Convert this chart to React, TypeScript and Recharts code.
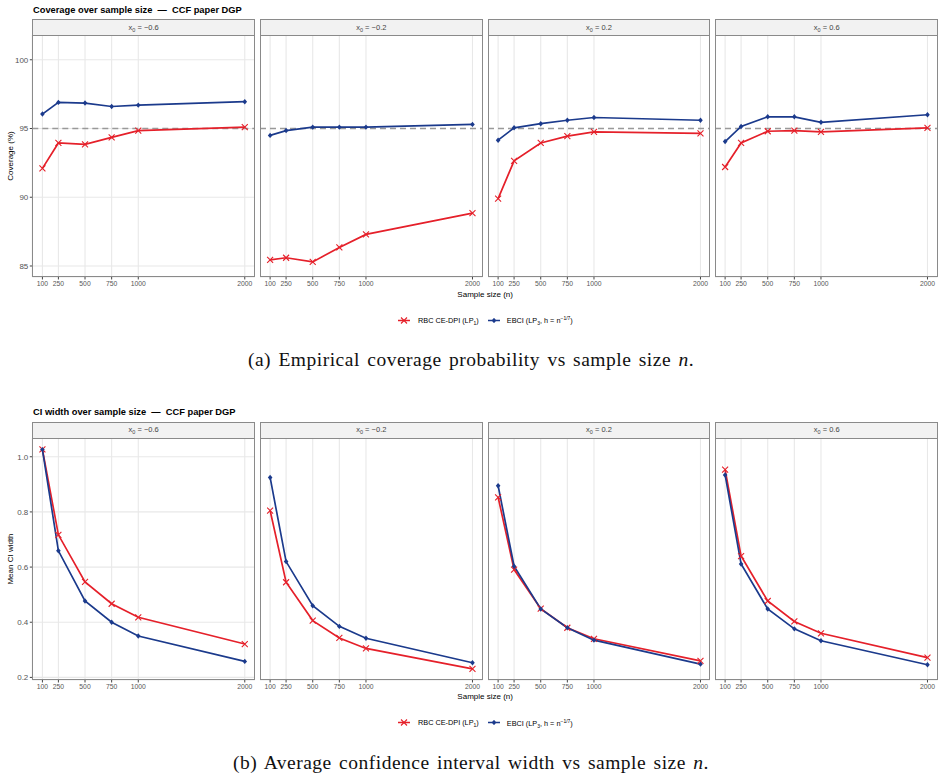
import React from "react";
import { CartesianGrid, Line, LineChart, ReferenceLine, XAxis, YAxis } from "recharts";

const sampleSizes = [100, 250, 500, 750, 1000, 2000];
const facetValues = ["\u22120.6", "\u22120.2", "0.2", "0.6"];

// coverage (%) by facet: x0 = -0.6, -0.2, 0.2, 0.6
const coverageRbc = [
  [92.1, 93.95, 93.85, 94.35, 94.85, 95.1],
  [85.45, 85.6, 85.3, 86.35, 87.3, 88.85],
  [89.9, 92.65, 93.95, 94.45, 94.75, 94.65],
  [92.2, 93.95, 94.8, 94.85, 94.75, 95.05],
];
const coverageEbci = [
  [96.05, 96.9, 96.85, 96.6, 96.7, 96.95],
  [94.5, 94.85, 95.1, 95.1, 95.1, 95.3],
  [94.15, 95.05, 95.35, 95.6, 95.8, 95.6],
  [94.05, 95.15, 95.85, 95.85, 95.45, 96.0],
];
const coverageTicks = [85, 90, 95, 100];

// mean CI width by facet
const widthRbc = [
  [1.027, 0.717, 0.546, 0.467, 0.418, 0.321],
  [0.805, 0.545, 0.406, 0.343, 0.305, 0.231],
  [0.853, 0.591, 0.449, 0.38, 0.34, 0.26],
  [0.953, 0.64, 0.477, 0.403, 0.36, 0.272],
];
const widthEbci = [
  [1.026, 0.659, 0.477, 0.4, 0.35, 0.258],
  [0.925, 0.62, 0.46, 0.385, 0.342, 0.253],
  [0.895, 0.603, 0.448, 0.38, 0.335, 0.248],
  [0.934, 0.611, 0.448, 0.376, 0.333, 0.246],
];
const widthTicks = [0.2, 0.4, 0.6, 0.8, 1.0];

const RED = "#e5202a";
const BLUE = "#1b3a8c";
const BORDER = "#8a8a8a";
const SANS = "'Liberation Sans', Arial, sans-serif";

const PANEL_LEFT = [32.3, 260, 487.7, 715.4];
const PANEL_W = 222.6;
const STRIP_TOP = 19;
const PLOT_TOP = 35;
const PLOT_H = 242;
const X_DOMAIN = [5, 2095];

const Cross = (p: any) => {
  const { cx, cy } = p;
  if (cx == null || cy == null) return <g key={p.index} />;
  const r = 3;
  return (
    <path
      key={p.index}
      d={`M${cx - r},${cy - r}L${cx + r},${cy + r}M${cx - r},${cy + r}L${cx + r},${cy - r}`}
      stroke={RED}
      strokeWidth={1.1}
      fill="none"
    />
  );
};

const Diamond = (p: any) => {
  const { cx, cy } = p;
  if (cx == null || cy == null) return <g key={p.index} />;
  return <path key={p.index} d={`M${cx},${cy - 2.7}L${cx + 2.3},${cy}L${cx},${cy + 2.7}L${cx - 2.3},${cy}Z`} fill={BLUE} />;
};

type FacetProps = {
  index: number;
  rbc: number[];
  ebci: number[];
  domain: number[];
  ticks: number[];
  fmt: (v: number) => string;
  hline?: number;
};

function Facet({ index, rbc, ebci, domain, ticks, fmt, hline }: FacetProps) {
  const first = index === 0;
  const left = first ? 0 : PANEL_LEFT[index];
  const width = first ? PANEL_LEFT[0] + PANEL_W : PANEL_W;
  const data = sampleSizes.map((n, i) => ({ n, rbc: rbc[i], ebci: ebci[i] }));
  return (
    <div style={{ position: "absolute", left, top: PLOT_TOP }}>
      <LineChart width={width} height={PLOT_H + 22} data={data} margin={{ top: 0, right: 0, bottom: 0, left: 0 }}>
        <CartesianGrid stroke="#e8e8e8" strokeWidth={1.1} />
        <XAxis
          dataKey="n"
          type="number"
          domain={X_DOMAIN}
          ticks={sampleSizes}
          interval={0}
          allowDataOverflow
          height={22}
          axisLine={false}
          tickLine={{ stroke: "#444" }}
          tickSize={2.5}
          tickMargin={1.5}
          tick={{ fontSize: 6.8, fill: "#555" }}
        />
        <YAxis
          type="number"
          domain={domain}
          ticks={ticks}
          allowDataOverflow
          width={first ? PANEL_LEFT[0] : 0}
          axisLine={false}
          tickLine={first ? { stroke: "#444" } : false}
          tick={first ? { fontSize: 8, fill: "#555" } : false}
          tickSize={2.5}
          tickMargin={1.5}
          tickFormatter={fmt}
        />
        {hline != null && (
          <ReferenceLine y={hline} stroke="#999" strokeWidth={1.3} strokeDasharray="6 4" />
        )}
        <Line dataKey="rbc" stroke={RED} strokeWidth={1.7} dot={false} isAnimationActive={false} />
        <Line dataKey="ebci" stroke={BLUE} strokeWidth={1.7} dot={false} isAnimationActive={false} />
        <Line dataKey="rbc" stroke="none" dot={Cross} activeDot={false} isAnimationActive={false} />
        <Line dataKey="ebci" stroke="none" dot={Diamond} activeDot={false} isAnimationActive={false} />
      </LineChart>
    </div>
  );
}

const LegendKey = ({ kind }: { kind: "rbc" | "ebci" }) => (
  <svg width={14} height={10} style={{ display: "block" }}>
    <line x1={1} x2={13} y1={5} y2={5} stroke={kind === "rbc" ? RED : BLUE} strokeWidth={1.7} />
    {kind === "rbc" ? (
      <path d="M4,2L10,8M4,8L10,2" stroke={RED} strokeWidth={1.1} />
    ) : (
      <path d="M7,2.3L9.3,5L7,7.7L4.7,5Z" fill={BLUE} />
    )}
  </svg>
);

type FigureProps = {
  top: number;
  title: string;
  yTitle: string;
  caption: React.ReactNode;
  rbc: number[][];
  ebci: number[][];
  domain: number[];
  ticks: number[];
  fmt: (v: number) => string;
  hline?: number;
};

function Figure({ top, title, yTitle, caption, rbc, ebci, domain, ticks, fmt, hline }: FigureProps) {
  const plotMid = PLOT_TOP + PLOT_H / 2;
  const xMid = (PANEL_LEFT[0] + PANEL_LEFT[3] + PANEL_W) / 2;
  return (
    <div style={{ position: "absolute", left: 0, top, width: 945, height: 400 }}>
      <div
        style={{
          position: "absolute",
          left: 33,
          top: 4.5,
          fontSize: 9.3,
          fontWeight: 700,
          color: "#000",
          whiteSpace: "pre",
        }}
      >
        {title}
      </div>
      {facetValues.map((v, i) => (
        <React.Fragment key={v}>
          <Facet index={i} rbc={rbc[i]} ebci={ebci[i]} domain={domain} ticks={ticks} fmt={fmt} hline={hline} />
          <div
            style={{
              position: "absolute",
              left: PANEL_LEFT[i],
              top: STRIP_TOP,
              width: PANEL_W,
              height: PLOT_TOP - STRIP_TOP + 1,
              boxSizing: "border-box",
              border: `1px solid ${BORDER}`,
              background: "#f2f2f2",
              fontSize: 7.5,
              color: "#444",
              display: "flex",
              alignItems: "center",
              justifyContent: "center",
              whiteSpace: "nowrap",
            }}
          >
            <span>
              x<sub style={{ fontSize: 5.5, verticalAlign: -2 }}>0</sub> = {v}
            </span>
          </div>
          <div
            style={{
              position: "absolute",
              left: PANEL_LEFT[i],
              top: PLOT_TOP,
              width: PANEL_W,
              height: PLOT_H,
              boxSizing: "border-box",
              border: `1px solid ${BORDER}`,
              pointerEvents: "none",
            }}
          />
        </React.Fragment>
      ))}
      <div
        style={{
          position: "absolute",
          left: 10,
          top: plotMid,
          transform: "translate(-50%, -50%) rotate(-90deg)",
          fontSize: 8,
          whiteSpace: "nowrap",
        }}
      >
        {yTitle}
      </div>
      <div style={{ position: "absolute", left: xMid, top: 293.5, transform: "translate(-50%, -50%)", fontSize: 8, whiteSpace: "nowrap" }}>
        Sample size (n)
      </div>
      <div style={{ position: "absolute", left: 397, top: 320, transform: "translateY(-50%)", display: "flex", alignItems: "center", fontSize: 7.3, whiteSpace: "nowrap" }}>
        <LegendKey kind="rbc" />
        <span style={{ marginLeft: 7 }}>
          RBC CE-DPI (LP<sub style={{ fontSize: 5, verticalAlign: -2 }}>1</sub>)
        </span>
        <span style={{ marginLeft: 8 }}>
          <LegendKey kind="ebci" />
        </span>
        <span style={{ marginLeft: 6 }}>
          EBCI (LP<sub style={{ fontSize: 5, verticalAlign: -2 }}>3</sub>, h = n<sup style={{ fontSize: 5, verticalAlign: 3 }}>{"\u22121/7"}</sup>)
        </span>
      </div>
      <div
        style={{
          position: "absolute",
          left: 471,
          top: 360,
          transform: "translate(-50%, -50%)",
          fontFamily: "'Liberation Serif', 'Times New Roman', serif",
          fontSize: 19.5,
          letterSpacing: 0.5,
          wordSpacing: 2,
          whiteSpace: "nowrap",
          color: "#111",
        }}
      >
        {caption}
      </div>
    </div>
  );
}

export default function App() {
  return (
    <div style={{ position: "relative", width: 945, height: 779, background: "#fff", fontFamily: SANS, overflow: "hidden" }}>
      <style>{`body { margin: 0; }`}</style>
      <Figure
        top={0}
        title={"Coverage over sample size  \u2014  CCF paper DGP"}
        yTitle="Coverage (%)"
        caption={
          <>
            (a) Empirical coverage probability vs sample size <i>n</i>.
          </>
        }
        rbc={coverageRbc}
        ebci={coverageEbci}
        domain={[84.2, 101.8]}
        ticks={coverageTicks}
        fmt={(v) => String(v)}
        hline={95}
      />
      <Figure
        top={402.5}
        title={"CI width over sample size  \u2014  CCF paper DGP"}
        yTitle="Mean CI width"
        caption={
          <>
            (b) Average confidence interval width vs sample size <i>n</i>.
          </>
        }
        rbc={widthRbc}
        ebci={widthEbci}
        domain={[0.1906, 1.068]}
        ticks={widthTicks}
        fmt={(v) => v.toFixed(1)}
      />
    </div>
  );
}
